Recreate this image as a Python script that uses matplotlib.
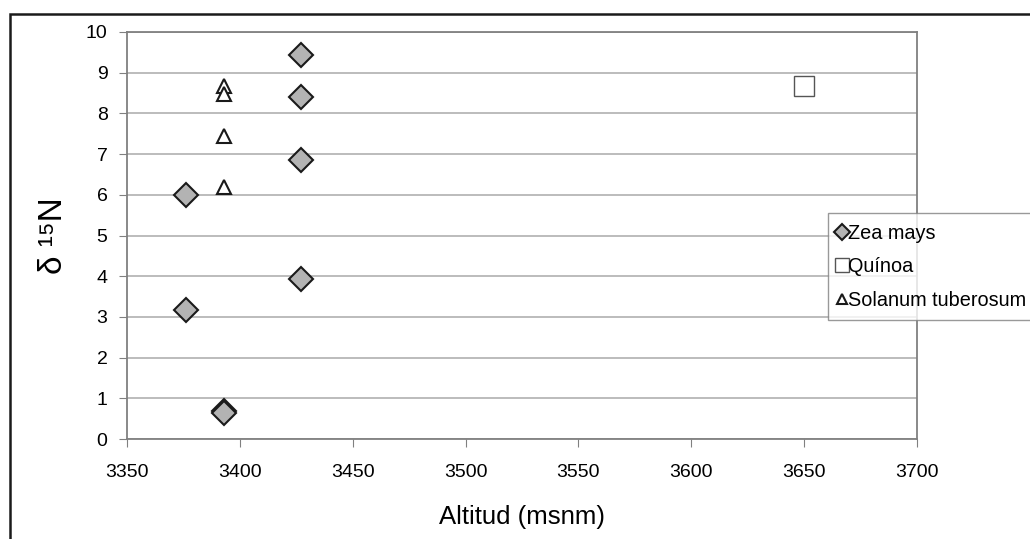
import matplotlib
matplotlib.use('Agg')
import matplotlib.pyplot as plt
from matplotlib.patches import Rectangle

plt.rcParams['font.family'] = ['Liberation Sans', 'DejaVu Sans']

# Data.
zea_alt = [3427, 3427, 3427, 3427, 3376, 3376, 3393, 3393]
zea_n15 = [9.43, 8.40, 6.85, 3.92, 6.00, 3.18, 0.70, 0.65]
quinoa_alt = [3650]
quinoa_n15 = [8.68]
sol_alt = [3393, 3393, 3393, 3393]
sol_n15 = [8.67, 8.48, 7.44, 6.20]

xticks = [3350, 3400, 3450, 3500, 3550, 3600, 3650, 3700]
yticks = list(range(0, 11))

fig = plt.figure(figsize=(10.3, 5.39), dpi=100)
ax = fig.add_axes([127/1030, 1 - 439/539, 790/1030, 407/539])

ax.plot(zea_alt, zea_n15, linestyle='none', marker='D', ms=12,
        mfc='#b3b3b3', mec='#1a1a1a', mew=1.5, label='Zea mays', zorder=3)
ax.plot(quinoa_alt, quinoa_n15, linestyle='none', marker='s', ms=14,
        mfc='white', mec='#555555', mew=1.0, label='Quínoa', zorder=3)
ax.plot(sol_alt, sol_n15, linestyle='none', marker='^', ms=10,
        mfc='white', mec='#1a1a1a', mew=1.5, label='Solanum tuberosum', zorder=3)

ax.set_xlim(3350, 3700)
ax.set_ylim(0, 10)
ax.set_xticks(xticks)
ax.set_yticks(yticks)
ax.tick_params(labelsize=14, color='#808080', length=6, direction='out')
ax.tick_params(axis='x', pad=12)
ax.tick_params(axis='y', pad=8)
ax.yaxis.grid(True, color='#b0b0b0', linewidth=1.2)
ax.set_axisbelow(True)
for s in ax.spines.values():
    s.set_color('#808080')
    s.set_linewidth(1.3)

ax.set_xlabel('Altitud (msnm)', fontsize=18.5, labelpad=17)
ax.set_ylabel('δ ¹⁵N', fontsize=24, labelpad=12)

leg = fig.legend(loc='upper left', bbox_to_anchor=(828/1030, 1 - 213/539),
                 fontsize=14.3, frameon=True, fancybox=False, handlelength=0.3,
                 handletextpad=0.15, borderpad=0.55, labelspacing=0.72,
                 borderaxespad=0, markerscale=0.7)
leg.get_frame().set_edgecolor('#808080')
leg.get_frame().set_linewidth(1.0)

# outer chart frame
fig.patches.append(Rectangle((10/1030, -0.1), 1.2, (539 - 14)/539 + 0.1,
                             transform=fig.transFigure, fill=False,
                             edgecolor='#1a1a1a', linewidth=1.8))

fig.savefig('out.png', dpi=100)
